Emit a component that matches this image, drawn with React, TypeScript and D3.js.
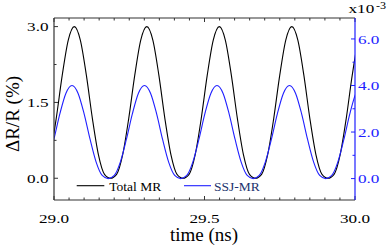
import React from "react";
import * as d3 from "d3";

// ---- data ----
const timeTicksMajor = [29.0, 29.5, 30.0];
const leftTicksMajor = [0.0, 1.5, 3.0];
const rightTicksMajor = [0.0, 2.0, 4.0, 6.0];

const totalTime = [28.9470, 28.9671, 28.9872, 29.0072, 29.0273, 29.0474, 29.0674, 29.0875, 29.1076, 29.1277, 29.1477, 29.1678,
  29.1879, 29.2080, 29.2280, 29.2481, 29.2682, 29.2882, 29.3083, 29.3284, 29.3485, 29.3685, 29.3886, 29.4087,
  29.4287, 29.4488, 29.4689, 29.4890, 29.5090, 29.5291, 29.5492, 29.5692, 29.5893, 29.6094, 29.6295, 29.6495,
  29.6696, 29.6897, 29.7097, 29.7298, 29.7499, 29.7700, 29.7900, 29.8101, 29.8302, 29.8502, 29.8703, 29.8904,
  29.9105, 29.9305, 29.9506, 29.9707, 29.9907, 30.0108, 30.0309];
const totalMR = [0, 0.078, 0.462, 1.176, 2.034, 2.733, 3.0, 2.733, 2.034, 1.176, 0.462, 0.078,
  0, 0.078, 0.462, 1.176, 2.034, 2.733, 3.0, 2.733, 2.034, 1.176, 0.462, 0.078,
  0, 0.078, 0.462, 1.176, 2.034, 2.733, 3.0, 2.733, 2.034, 1.176, 0.462, 0.078,
  0, 0.078, 0.462, 1.176, 2.034, 2.733, 3.0, 2.733, 2.034, 1.176, 0.462, 0.078,
  0, 0.078, 0.462, 1.176, 2.034, 2.733, 3.0];

const ssjTime = [28.9393, 28.9594, 28.9795, 28.9995, 29.0196, 29.0397, 29.0598, 29.0798, 29.0999, 29.1200, 29.1400, 29.1601,
  29.1802, 29.2003, 29.2203, 29.2404, 29.2605, 29.2805, 29.3006, 29.3207, 29.3408, 29.3608, 29.3809, 29.4010,
  29.4210, 29.4411, 29.4612, 29.4813, 29.5013, 29.5214, 29.5415, 29.5615, 29.5816, 29.6017, 29.6218, 29.6418,
  29.6619, 29.6820, 29.7020, 29.7221, 29.7422, 29.7623, 29.7823, 29.8024, 29.8225, 29.8425, 29.8626, 29.8827,
  29.9028, 29.9228, 29.9429, 29.9630, 29.9830, 30.0031, 30.0232];
const ssjMR = [0, 0.136, 0.707, 1.68, 2.79, 3.67, 4.0, 3.67, 2.79, 1.68, 0.707, 0.136,
  0, 0.136, 0.707, 1.68, 2.79, 3.67, 4.0, 3.67, 2.79, 1.68, 0.707, 0.136,
  0, 0.136, 0.707, 1.68, 2.79, 3.67, 4.0, 3.67, 2.79, 1.68, 0.707, 0.136,
  0, 0.136, 0.707, 1.68, 2.79, 3.67, 4.0, 3.67, 2.79, 1.68, 0.707, 0.136,
  0, 0.136, 0.707, 1.68, 2.79, 3.67, 4.0];

const W = 387, H = 249;
const L = 54, R = 355, T = 18, B = 200;
const FONT = "\"Liberation Serif\", \"DejaVu Serif\", serif";
const BLUE = "#1f1fff";
const STRETCH = 1.27;
const tf = { fontFamily: FONT };

export default function App() {
  const x = d3.scaleLinear().domain([29.0, 30.0]).range([L, R]);
  const yL = d3.scaleLinear().domain([-0.43, 3.17]).range([B, T]);
  const yR = d3.scaleLinear().domain([-0.92, 6.9]).range([B, T]);

  const totalPts = totalTime.map((t, i) => [t, totalMR[i]] as [number, number]);
  const ssjPts = ssjTime.map((t, i) => [t, ssjMR[i]] as [number, number]);
  const lineL = d3.line<[number, number]>().x(d => x(d[0])).y(d => yL(d[1])).curve(d3.curveMonotoneX);
  const lineR = d3.line<[number, number]>().x(d => x(d[0])).y(d => yR(d[1])).curve(d3.curveMonotoneX);

  const xMinor = d3.range(0, 21).map(i => 29 + i * 0.05);
  const yLMinor = d3.range(0, 5).map(i => i * 0.75);
  const yRMinor = d3.range(0, 7).map(i => i);

  const isMajorX = (v: number) => timeTicksMajor.some(m => Math.abs(m - v) < 1e-6);

  return (
    <svg width={W} height={H} style={{ position: "fixed", left: 0, top: 0, background: "#fff" }}>
      <defs>
        <clipPath id="plotclip">
          <rect x={L} y={T} width={R - L} height={B - T} />
        </clipPath>
      </defs>
      <rect x={0} y={0} width={W} height={H} fill="#fff" />

      {/* curves */}
      <g clipPath="url(#plotclip)" fill="none">
        <path d={lineL(totalPts) || ""} stroke="#000" strokeWidth={1.1} />
        <path d={lineR(ssjPts) || ""} stroke={BLUE} strokeWidth={1.1} />
      </g>

      {/* ticks */}
      <g stroke="#333" strokeWidth={1}>
        {xMinor.map((v, i) => {
          const len = isMajorX(v) ? 4 : 2.5;
          const px = x(v);
          return (
            <g key={i}>
              <line x1={px} x2={px} y1={B} y2={B - len} />
              <line x1={px} x2={px} y1={T} y2={T + len} />
            </g>
          );
        })}
        {yLMinor.map((v, i) => {
          const major = leftTicksMajor.some(m => Math.abs(m - v) < 1e-6);
          return <line key={i} x1={L} x2={L + (major ? 4 : 2.5)} y1={yL(v)} y2={yL(v)} />;
        })}
      </g>
      <g stroke={BLUE} strokeWidth={1}>
        {yRMinor.map((v, i) => {
          const major = rightTicksMajor.some(m => Math.abs(m - v) < 1e-6);
          return <line key={i} x1={R} x2={R - (major ? 4 : 2.5)} y1={yR(v)} y2={yR(v)} />;
        })}
      </g>

      {/* frame */}
      <line x1={L} x2={R} y1={T} y2={T} stroke="#333" strokeWidth={1.2} />
      <line x1={L} x2={R} y1={B} y2={B} stroke="#333" strokeWidth={1.2} />
      <line x1={L} x2={L} y1={T} y2={B} stroke="#333" strokeWidth={1.2} />
      <line x1={R} x2={R} y1={T} y2={B} stroke={BLUE} strokeWidth={1.2} />

      {/* tick labels */}
      <g fontSize={13.5} fill="#000">
        {timeTicksMajor.map((v, i) => (
          <text key={i} style={tf} transform={`translate(${x(v)},${223}) scale(${STRETCH},1)`} textAnchor="middle">
            {d3.format(".1f")(v)}
          </text>
        ))}
        {leftTicksMajor.map((v, i) => (
          <text key={i} style={tf} transform={`translate(48.5,${yL(v) + 4.7}) scale(${STRETCH},1)`} textAnchor="end">
            {d3.format(".1f")(v)}
          </text>
        ))}
      </g>
      <g fontSize={13.5} fill={BLUE}>
        {rightTicksMajor.map((v, i) => (
          <text key={i} style={tf} transform={`translate(358,${yR(v) + 4.7}) scale(${STRETCH},1)`} textAnchor="start">
            {d3.format(".1f")(v)}
          </text>
        ))}
      </g>
      <text style={tf} transform={`translate(348.5,13.3) scale(${STRETCH},1)`} fontSize={13.5} fill="#000">x10</text>
      <text style={tf} transform={`translate(376,8.6) scale(${STRETCH},1)`} fontSize={9.5} fill="#000">-3</text>

      {/* axis titles */}
      <text style={tf} x={204} y={241} fontSize={19} textAnchor="middle" fill="#000">time (ns)</text>
      <text style={tf} transform="translate(19,114) rotate(-90)" fontSize={19} textAnchor="middle" fill="#000">ΔR/R (%)</text>

      {/* legend */}
      <line x1={76.7} x2={104.3} y1={185.7} y2={185.7} stroke="#000" strokeWidth={1.1} />
      <text style={tf} x={109.3} y={190.7} fontSize={13.5} fill="#000">Total MR</text>
      <line x1={184} x2={211} y1={185.7} y2={185.7} stroke={BLUE} strokeWidth={1.1} />
      <text style={tf} x={214} y={190.7} fontSize={13.5} fill="#22336e">SSJ-MR</text>
    </svg>
  );
}
